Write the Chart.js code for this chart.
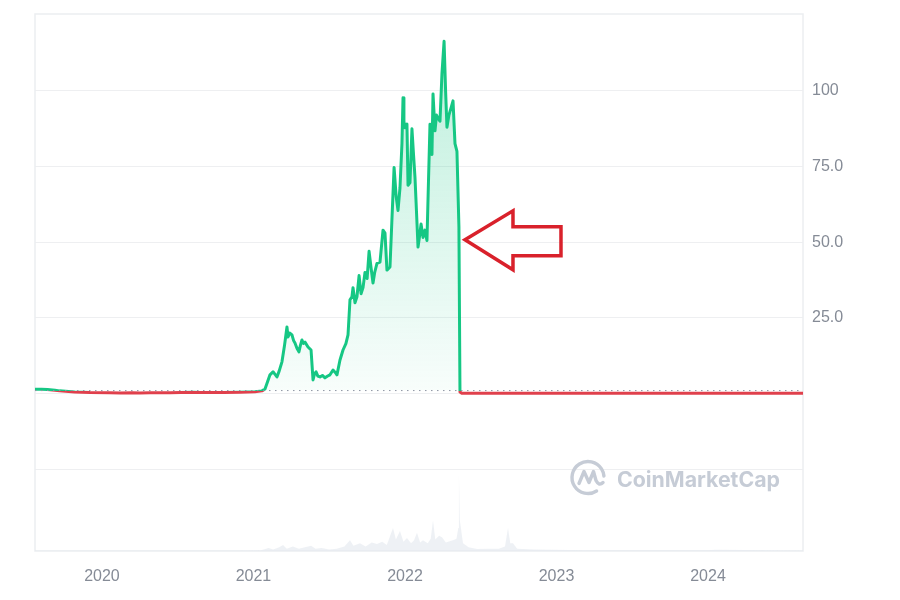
<!DOCTYPE html>
<html><head><meta charset="utf-8">
<script src="https://cdn.jsdelivr.net/npm/chart.js@4.4.0/dist/chart.umd.min.js"></script>
<style>html,body{margin:0;padding:0;background:#fff;}canvas{display:block;}</style>
</head><body>
<canvas id="c" width="900" height="600"></canvas>
<script>
// ---- data (x in fractional years) ----
const priceDates = [2019.558,2019.60,2019.64,2019.69,2019.72,2019.78,2019.82,2019.92,2020.05,2020.12,2020.2,2020.25,2020.32,2020.45,2020.52,2020.6,2020.65,2020.72,2020.8,2020.91,2021.01,2021.056,2021.076,2021.09,2021.109,2021.129,2021.14,2021.155,2021.17,2021.188,2021.205,2021.221,2021.228,2021.24,2021.254,2021.265,2021.274,2021.287,2021.300,2021.31,2021.320,2021.330,2021.340,2021.360,2021.380,2021.393,2021.403,2021.413,2021.425,2021.439,2021.455,2021.472,2021.49,2021.505,2021.525,2021.540,2021.551,2021.571,2021.591,2021.61,2021.624,2021.637,2021.650,2021.657,2021.670,2021.683,2021.697,2021.710,2021.723,2021.736,2021.750,2021.763,2021.775,2021.789,2021.80,2021.815,2021.835,2021.855,2021.868,2021.881,2021.901,2021.928,2021.942,2021.954,2021.967,2021.980,2021.987,2021.993,2022.000,2022.013,2022.020,2022.033,2022.046,2022.055,2022.066,2022.076,2022.086,2022.096,2022.106,2022.119,2022.132,2022.145,2022.155,2022.165,2022.172,2022.178,2022.185,2022.198,2022.208,2022.218,2022.231,2022.244,2022.258,2022.268,2022.277,2022.290,2022.304,2022.317,2022.330,2022.343,2022.356,2022.363,2022.375,2023.5,2024.627];
const priceValues = [1.4,1.45,1.35,1.1,0.9,0.7,0.55,0.35,0.25,0.22,0.3,0.2,0.25,0.3,0.35,0.45,0.4,0.35,0.35,0.45,0.6,0.9,1.5,3.5,6.2,7.2,6.5,5.5,7.5,10.5,16,22,18.7,20,19.4,17.5,16.7,15,13.8,16,17.7,16.6,17,15.4,14.4,4.5,6.5,7.2,5.8,5.5,6.0,5.2,5.8,6.2,7.8,7.0,6.2,11.1,14.4,16.5,19.4,31,32,35,30,32,39,33,35,40,38,47,42,36.5,40,43,43.4,54,53,40.8,41.8,74.7,65,60.5,68,82.6,97.7,90,87.8,89,68.8,69.7,87.5,80,71.4,60,48.4,52,56,51.6,54,50.6,70,89,86,79,99,86.8,92,91,90,105.6,116.4,100,88,92,94.4,96.7,82.6,80,55,0.5,0.1,0.1,0.1];
const volumeDates = [2019.558,2020.9,2021.05,2021.1,2021.13,2021.17,2021.195,2021.22,2021.26,2021.3,2021.34,2021.38,2021.41,2021.45,2021.5,2021.55,2021.6,2021.637,2021.66,2021.703,2021.74,2021.78,2021.815,2021.85,2021.88,2021.921,2021.94,2021.967,2021.99,2022.013,2022.04,2022.06,2022.079,2022.1,2022.119,2022.15,2022.17,2022.185,2022.2,2022.225,2022.244,2022.27,2022.3,2022.317,2022.34,2022.352,2022.356,2022.362,2022.383,2022.42,2022.475,2022.55,2022.62,2022.66,2022.68,2022.695,2022.713,2022.74,2022.85,2023.2,2024.0,2024.05,2024.627];
const volumeValues = [0.05,0.05,0.1,0.4,0.2,0.5,0.8,0.3,0.6,0.3,0.5,0.7,0.3,0.4,0.2,0.3,0.6,1.4,0.7,1.0,0.6,1.1,0.9,1.2,0.8,3.0,1.5,2.6,1.2,1.7,1.0,1.4,2.4,1.1,1.4,1.0,1.6,4.0,1.5,2.0,1.8,1.1,1.3,1.4,1.6,3.0,10,4,1.0,0.5,0.26,0.3,0.3,0.6,3.0,1.0,1.0,0.3,0.2,0.1,0.1,0.15,0.05];
const baselinePrice = 1.0;
const xTickYears = [2020,2021,2022,2023,2024];
const yGridValues = [-25,0,25,50,75,100];
const yTickValues = [25,50,75,100];
const yTickLabels = ['25.0','50.0','75.0','100'];
const arrowTip = {x: 2022.396, y: 50.8};
const watermarkText = 'CoinMarketCap';

// ---- view ----
const X_MIN = 2019.558, X_MAX = 2024.627;
const Y_MIN = -52, Y_MAX = 125.4;
const GREEN = '#16c784', RED = '#e0404c';
const TICK_COLOR = '#858b96';
const FONT = 'Liberation Sans, Arial, sans-serif';

const priceData = priceDates.map((d,i)=>({x:d, y:priceValues[i]}));
const volumeData = volumeDates.map((d,i)=>({x:d, y:volumeValues[i]}));
const volumeMax = Math.max(...volumeValues);

function lineGradient(c){
  const chart = c.chart, a = chart.chartArea;
  if(!a) return GREEN;
  const yb = chart.scales.y.getPixelForValue(baselinePrice);
  const s = Math.min(1, Math.max(0, (yb - a.top)/(a.bottom - a.top)));
  const g = chart.ctx.createLinearGradient(0, a.top, 0, a.bottom);
  g.addColorStop(0, GREEN); g.addColorStop(s, GREEN);
  g.addColorStop(s, RED); g.addColorStop(1, RED);
  return g;
}
function fillGradient(c){
  const chart = c.chart, a = chart.chartArea;
  if(!a) return 'rgba(22,199,132,0.1)';
  const yb = chart.scales.y.getPixelForValue(baselinePrice);
  const g = chart.ctx.createLinearGradient(0, a.top, 0, yb);
  g.addColorStop(0, 'rgba(22,199,132,0.30)');
  g.addColorStop(1, 'rgba(22,199,132,0.03)');
  return g;
}

const framePlugin = {
  id:'frame',
  beforeDatasetsDraw(chart){
    const {ctx, chartArea:a} = chart;
    ctx.save();
    ctx.strokeStyle = '#eceef1';
    ctx.lineWidth = 1.5;
    ctx.strokeRect(a.left, a.top, a.right - a.left, a.bottom - a.top);
    // watermark
    const col = '#c6ccd6';
    const cx = a.right - 215, cy = a.bottom - 73.5, r = 16;
    ctx.strokeStyle = col; ctx.lineWidth = 3.4; ctx.lineCap = 'round'; ctx.lineJoin = 'round';
    ctx.beginPath(); ctx.arc(cx, cy, r, 0.32*Math.PI, 1.97*Math.PI); ctx.stroke();
    ctx.beginPath();
    ctx.moveTo(cx-9, cy+6); ctx.lineTo(cx-4, cy-6); ctx.lineTo(cx+1, cy+5);
    ctx.lineTo(cx+5.5, cy-6); ctx.lineTo(cx+8, cy+3);
    ctx.quadraticCurveTo(cx+11, cy+9, cx+15, cy+5);
    ctx.stroke();
    let size = 20;
    ctx.font = '700 ' + size + 'px Inter, sans-serif';
    const w = ctx.measureText(watermarkText).width;
    size = size * 163 / w;
    ctx.font = '700 ' + size.toFixed(2) + 'px Inter, sans-serif';
    ctx.fillStyle = col; ctx.textBaseline = 'alphabetic'; ctx.textAlign = 'left';
    ctx.fillText(watermarkText, a.right - 186, a.bottom - 64);
    ctx.restore();
  }
};

const arrowPlugin = {
  id:'arrow',
  afterDatasetsDraw(chart){
    const {ctx, scales} = chart;
    const tx = scales.x.getPixelForValue(arrowTip.x);
    const ty = scales.y.getPixelForValue(arrowTip.y);
    const pts = [[0,0],[48,-29],[48,-13],[96,-13],[96,16],[48,16],[48,30]];
    ctx.save();
    ctx.strokeStyle = '#d9212b'; ctx.lineWidth = 3.5; ctx.lineJoin = 'miter';
    ctx.beginPath();
    pts.forEach((p,i)=>{ if(i===0) ctx.moveTo(tx+p[0], ty+p[1]); else ctx.lineTo(tx+p[0], ty+p[1]); });
    ctx.closePath(); ctx.stroke();
    ctx.restore();
  }
};

new Chart(document.getElementById('c').getContext('2d'), {
  type:'line',
  data:{datasets:[
    {label:'baseline', data:[{x:X_MIN,y:baselinePrice},{x:X_MAX,y:baselinePrice}], yAxisID:'y',
     borderColor:'#8d95a3', borderWidth:1, borderDash:[1.5,4.5], pointRadius:0, fill:false, order:0},
    {label:'price', data:priceData, yAxisID:'y', borderColor:lineGradient, backgroundColor:fillGradient,
     fill:{target:{value:baselinePrice}, below:'rgba(0,0,0,0)'}, borderWidth:3, pointRadius:0,
     tension:0, borderJoinStyle:'round', order:1},
    {label:'volume', data:volumeData, yAxisID:'yv', backgroundColor:'rgba(226,232,239,0.6)',
     borderWidth:0, fill:'origin', pointRadius:0, tension:0, order:2}
  ]},
  options:{
    responsive:false, animation:false,
    layout:{padding:{left:35, top:14, right:0, bottom:0}},
    plugins:{legend:{display:false}, tooltip:{enabled:false}},
    scales:{
      x:{type:'linear', min:X_MIN, max:X_MAX,
         grid:{display:false, drawTicks:false}, border:{display:false},
         afterBuildTicks:s=>{ s.ticks = xTickYears.map(v=>({value:v})); },
         ticks:{callback:v=>String(v), color:TICK_COLOR, font:{family:FONT, size:16}, padding:16, maxRotation:0, autoSkip:false},
         afterFit:s=>{ s.height = 49; s.paddingLeft = 0; s.paddingRight = 0; }},
      y:{type:'linear', position:'right', min:Y_MIN, max:Y_MAX,
         afterBuildTicks:s=>{ s.ticks = yGridValues.map(v=>({value:v})); },
         grid:{color:'#eeeff1', drawTicks:false, lineWidth:1}, border:{display:false},
         ticks:{callback:v=>{ const i = yTickValues.indexOf(v); return i>=0 ? yTickLabels[i] : ''; },
                color:TICK_COLOR, font:{family:FONT, size:16}, padding:9},
         afterFit:s=>{ s.width = 97; s.paddingTop = 0; s.paddingBottom = 0; }},
      yv:{type:'linear', display:false, min:0, max:volumeMax*537/76.5}
    }
  },
  plugins:[framePlugin, arrowPlugin]
});
</script>
</body></html>
